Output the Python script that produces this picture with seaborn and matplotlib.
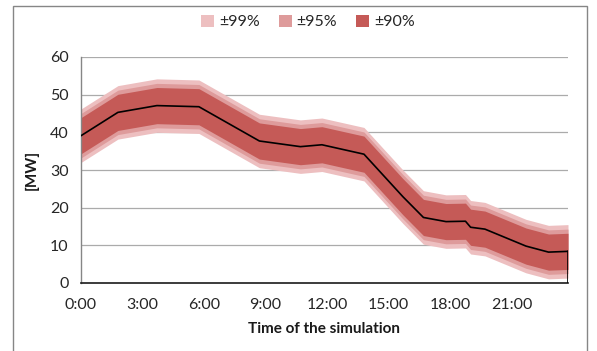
import matplotlib
matplotlib.use("Agg")
import matplotlib.pyplot as plt
from matplotlib.patches import Rectangle
import seaborn as sns
import pandas as pd

# ---- data ----
hours = [0, 1.8, 3.7, 5.75, 8.7, 10.7, 11.75, 13.8, 15.7, 16.7, 17.8, 18.75, 19.0, 19.7, 21.7, 22.8, 23.75]
mean_mw = [39.1, 45.3, 47.1, 46.8, 37.7, 36.2, 36.7, 34.2, 22.9, 17.4, 16.3, 16.4, 14.8, 14.3, 9.8, 8.2, 8.4]
end_drop_mw = [8.4, 0.0]          # final vertical drop of the line at the last time step
half_width_99 = 7.1
half_width_95 = 5.9
half_width_90 = 4.8
band_labels = ["±99%", "±95%", "±90%"]
band_colors = ["#EDBFC0", "#DE9B9B", "#C55A57"]
tick_hours = [0, 3, 6, 9, 12, 15, 18, 21]
tick_labels = ["0:00", "3:00", "6:00", "9:00", "12:00", "15:00", "18:00", "21:00"]
yticks = [0, 10, 20, 30, 40, 50, 60]

sns.set_style("white")
plt.rcParams["font.family"] = ["Lato", "DejaVu Sans"]

fig = plt.figure(figsize=(5.97, 3.51), dpi=100)
ax = fig.add_axes([81/597, 1-283/351, (568-81)/597, (283-57)/351])

df = pd.DataFrame({"hour": hours, "mean": mean_mw})
widths = [half_width_99, half_width_95, half_width_90]
band_handles = []
for lab, col, w in zip(band_labels, band_colors, widths):
    h = ax.fill_between(df["hour"], df["mean"] - w, df["mean"] + w, color=col, lw=0, label=lab)
    band_handles.append(h)

for y in yticks[1:]:
    ax.axhline(y, color="#ABABAB", lw=0.9, zorder=0.5)

sns.lineplot(data=df, x="hour", y="mean", color="black", lw=1.2, ax=ax, zorder=5, legend=False)
ax.plot([hours[-1], hours[-1]], end_drop_mw, color="black", lw=1.2, zorder=5)
if ax.get_legend() is not None:
    ax.get_legend().remove()

ax.set_xlim(0, 23.75)
ax.set_ylim(0, 60)
ax.set_xticks(tick_hours)
ax.set_xticklabels(tick_labels)
ax.set_yticks(yticks)
ax.tick_params(axis="both", direction="out", length=5, width=0.9, color="#868686",
               labelsize=11.5, labelcolor="#262626", pad=4)
ax.tick_params(axis="x", pad=6)
for s in ["top", "right"]:
    ax.spines[s].set_visible(False)
ax.spines["left"].set_color("#868686")
ax.spines["left"].set_linewidth(1.0)
ax.spines["bottom"].set_color("#1a1a1a")
ax.spines["bottom"].set_linewidth(1.2)

ax.set_xlabel("")
ax.set_ylabel("")
fig.text(324.5/597, 1-329/351, "Time of the simulation", ha="center", va="center",
         fontsize=11, fontweight="bold", color="#1a1a1a")
fig.text(32/597, 1-170/351, "[MW]", ha="center", va="center", rotation=90,
         fontsize=11, fontweight="bold", color="#1a1a1a")

leg = fig.legend(band_handles, band_labels, loc="center", bbox_to_anchor=(308/597, 1-22/351),
                 ncol=3, frameon=False, fontsize=11.5, handlelength=0.8, handleheight=0.8,
                 handletextpad=0.3, columnspacing=1.2, borderaxespad=0)
for t in leg.get_texts():
    t.set_color("#262626")

fig.add_artist(Rectangle((13/597, -0.1), (587-13)/597, 1-6/351+0.1, transform=fig.transFigure,
                         fill=False, edgecolor="#868686", lw=1.0))

fig.savefig("out.png", dpi=100)
